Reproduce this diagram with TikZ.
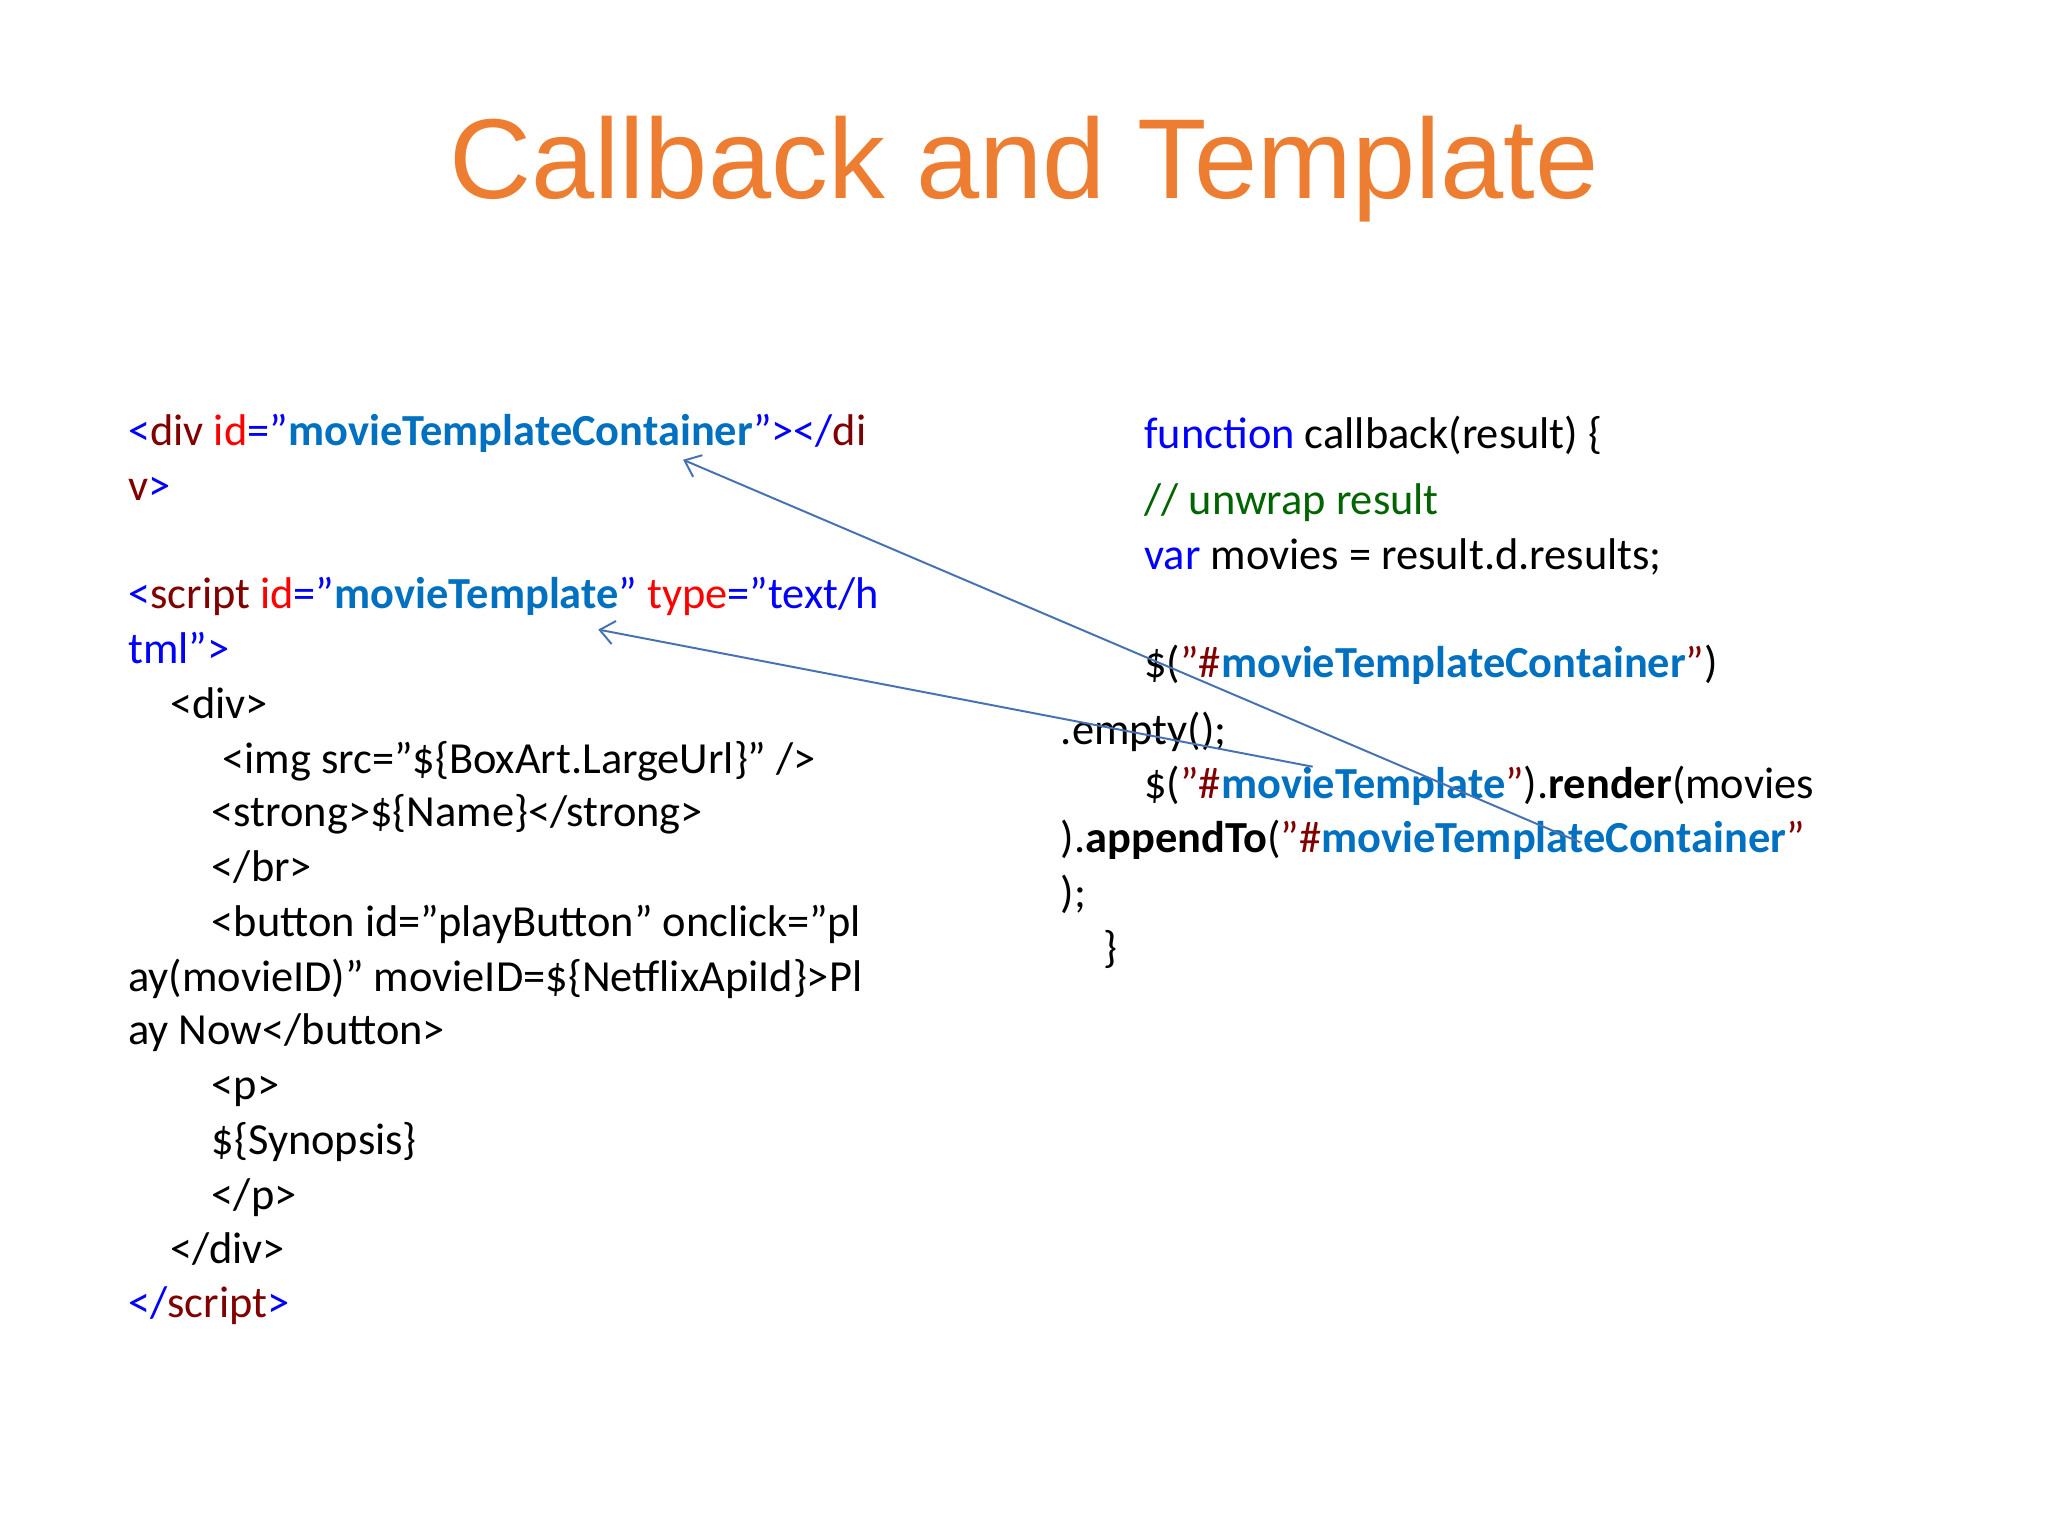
\documentclass[tikz,border=0pt]{standalone}
\usepackage{fontspec}
\setmainfont{Carlito}
\newfontfamily\titlefont{Liberation Sans}
\usetikzlibrary{arrows.meta}
\definecolor{tagblue}{RGB}{0,0,255}
\definecolor{maroon}{RGB}{128,0,0}
\definecolor{valblue}{RGB}{0,112,192}
\definecolor{attrred}{RGB}{255,0,0}
\definecolor{cmtgreen}{RGB}{0,100,0}
\definecolor{ttl}{RGB}{237,125,49}
\definecolor{arr}{RGB}{70,114,180}
\newcommand{\Bl}[1]{\textcolor{tagblue}{#1}}
\newcommand{\Mr}[1]{\textcolor{maroon}{#1}}
\newcommand{\Rd}[1]{\textcolor{attrred}{#1}}
\newcommand{\Vb}[1]{\textcolor{valblue}{\bfseries #1}}
\newcommand{\q}{\char34\relax}
\begin{document}
\begin{tikzpicture}[x=1pt,y=-1pt,
  code/.style={anchor=base west,inner sep=0pt,font=\fontsize{34}{40}\selectfont},
  link/.style={draw=arr,line width=1.5pt,-{Straight Barb[length=11pt,width=18pt]}}]
\useasboundingbox[fill=white] (0,0) rectangle (1568,1176);
\node[anchor=base,inner sep=0pt,text=ttl,font=\titlefont\fontsize{87}{100}\selectfont] (title) at (784,152) {Callback and Template};
% left column
\node[code] (l0) at (98,341) {\Bl{<}\Mr{div} \Rd{id}\Bl{=\q}\Vb{movieTemplateContainer}\Bl{\q></}\Mr{di}};
\node[code] (l1) at (98,383) {\Mr{v}\Bl{>}};
\node[code] (l3) at (98,466) {\Bl{<}\Mr{script} \Rd{id}\Bl{=\q}\Vb{movieTemplate}\Bl{\q} \Rd{type}\Bl{=\q text/h}};
\node[code] (l4) at (98,508) {\Bl{tml\q>}};
\node[code] (l5) at (130,550) {<div>};
\node[code] (l6) at (170,592) {<img src=\q\$\{BoxArt.LargeUrl\}\q{} />};
\node[code] (l7) at (162,633) {<strong>\$\{Name\}</strong>};
\node[code] (l8) at (162,675) {</br>};
\node[code] (l9) at (162,717) {<button id=\q playButton\q{} onclick=\q pl};
\node[code] (l10) at (98,759) {ay(movieID)\q{} movieID=\$\{NetflixApiId\}>Pl};
\node[code] (l11) at (98,800) {ay Now</button>};
\node[code] (l12) at (162,842) {<p>};
\node[code] (l13) at (162,884) {\$\{Synopsis\}};
\node[code] (l14) at (162,926) {</p>};
\node[code] (l15) at (130,967) {</div>};
\node[code] (l16) at (98,1009) {\Bl{</}\Mr{script}\Bl{>}};
% right column
\node[code] (r0) at (876,343) {\Bl{function} callback(result) \{};
\node[code] (r1) at (876,394) {\textcolor{cmtgreen}{// unwrap result}};
\node[code] (r2) at (876,436) {\Bl{var} movies = result.d.results;};
\node[code] (r3) at (876,519) {\$(\Mr{\q\#}\Vb{movieTemplateContainer}\Mr{\q})};
\node[code] (r4) at (812,570) {.empty();};
\node[code] (r5) at (876,611) {\$(\Mr{\q\#}\Vb{movieTemplate}\Mr{\q}).\textbf{render}(movies};
\node[code] (r6) at (812,653) {).\textbf{appendTo}(\Mr{\q\#}\Vb{movieTemplateContainer}\Mr{\q}};
\node[code] (r7) at (812,695) {);};
\node[code] (r8) at (845,737) {\}};
% arrows
\coordinate (s1) at (1210,645);
\coordinate (e1) at (523,352);
\coordinate (s2) at (1005,587);
\coordinate (e2) at (458,482);
\draw[link] (s1) -- (e1);
\draw[link] (s2) -- (e2);
\end{tikzpicture}
\end{document}
